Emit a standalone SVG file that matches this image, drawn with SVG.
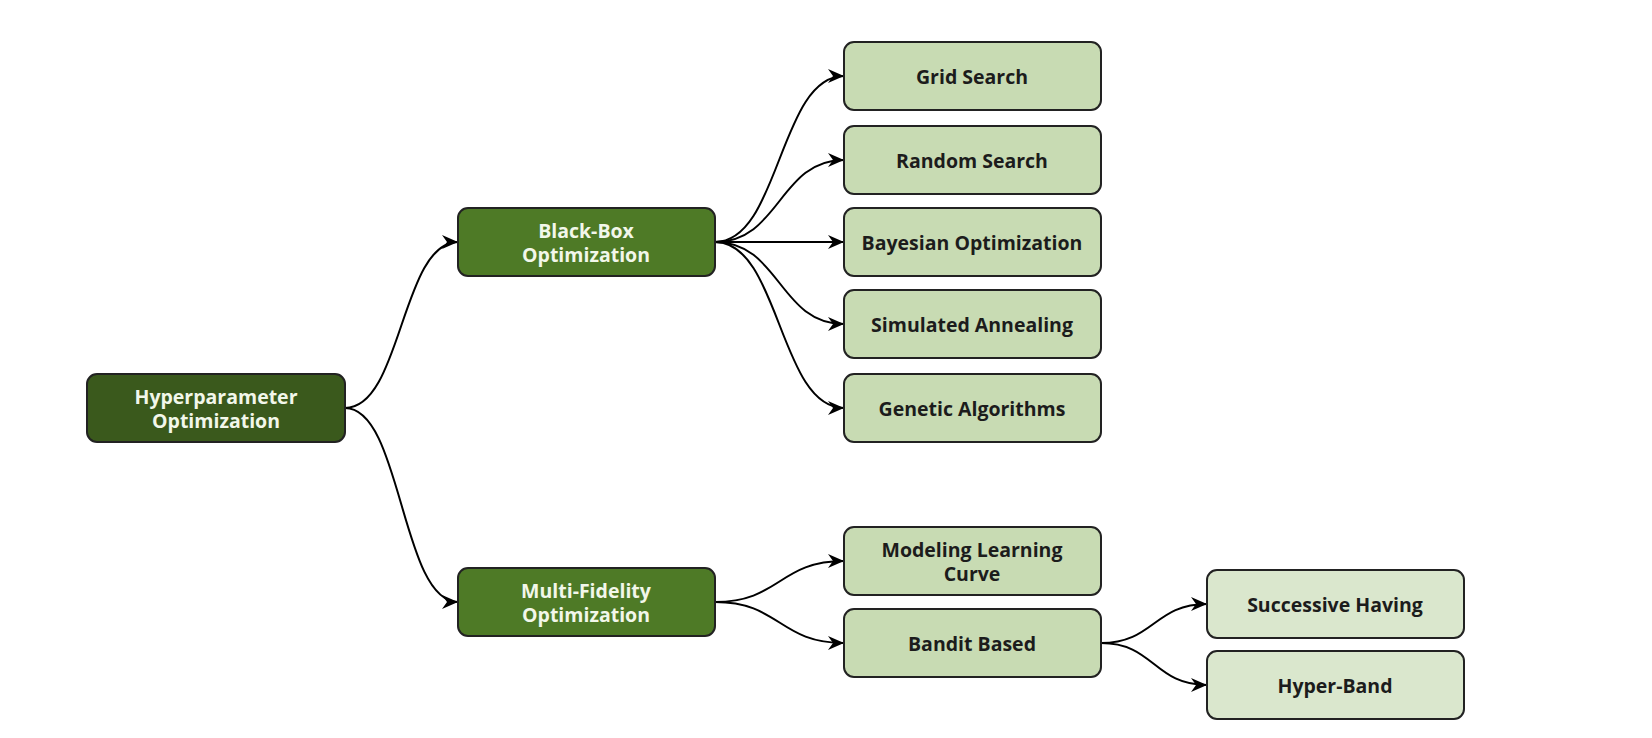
<svg xmlns="http://www.w3.org/2000/svg" width="1652" height="738" viewBox="0 0 1652 738">
<style>
.box{stroke:#222;stroke-width:2}
.root{fill:#3a591c}
.mid{fill:#4e7a26}
.leaf{fill:#c8dbb3}
.leaf2{fill:#dae7cd}
text{font-family:"Open Sans","Noto Sans","Liberation Sans",sans-serif;font-weight:700;font-size:19.5px;text-anchor:middle;dominant-baseline:central}
.lt{fill:#f2f7ea}
.dt{fill:#1c1c1c}
.con{fill:none;stroke:#000;stroke-width:2;marker-end:url(#arr)}
</style>
<defs>
<marker id="arr" markerUnits="userSpaceOnUse" markerWidth="18" markerHeight="14" refX="16" refY="7" orient="auto">
<path d="M0,0 L16,7 L0,14 L5,7 z" fill="#000"/>
</marker>
</defs>
<rect width="1652" height="738" fill="#fff"/>
<g id="connectors">
<path class="con" d="M345,408 C402,408 401,242 458,242"/>
<path class="con" d="M345,408 C402,408 401,602 458,602"/>
<path class="con" d="M715,242 C780,242 779,76 844,76"/>
<path class="con" d="M715,242 C780,242 779,160 844,160"/>
<path class="con" d="M715,242 L844,242"/>
<path class="con" d="M715,242 C780,242 779,324 844,324"/>
<path class="con" d="M715,242 C780,242 779,408 844,408"/>
<path class="con" d="M715,602 C780,602 779,561 844,561"/>
<path class="con" d="M715,602 C780,602 779,643 844,643"/>
<path class="con" d="M1101,643 C1154,643 1154,604 1207,604"/>
<path class="con" d="M1101,643 C1154,643 1154,685 1207,685"/>
</g>
<g id="hyperparameter">
<rect class="box root" x="87" y="374" width="258" height="68" rx="10"/>
<text class="lt" x="216" y="396">Hyperparameter</text>
<text class="lt" x="216" y="420">Optimization</text>
</g>
<g id="blackbox">
<rect class="box mid" x="458" y="208" width="257" height="68" rx="10"/>
<text class="lt" x="586" y="230">Black-Box</text>
<text class="lt" x="586" y="254">Optimization</text>
</g>
<g id="multifidelity">
<rect class="box mid" x="458" y="568" width="257" height="68" rx="10"/>
<text class="lt" x="586" y="590">Multi-Fidelity</text>
<text class="lt" x="586" y="614">Optimization</text>
</g>
<g id="grid">
<rect class="box leaf" x="844" y="42" width="257" height="68" rx="10"/>
<text class="dt" x="972" y="76">Grid Search</text>
</g>
<g id="random">
<rect class="box leaf" x="844" y="126" width="257" height="68" rx="10"/>
<text class="dt" x="972" y="160">Random Search</text>
</g>
<g id="bayesian">
<rect class="box leaf" x="844" y="208" width="257" height="68" rx="10"/>
<text class="dt" x="972" y="242">Bayesian Optimization</text>
</g>
<g id="simulated">
<rect class="box leaf" x="844" y="290" width="257" height="68" rx="10"/>
<text class="dt" x="972" y="324">Simulated Annealing</text>
</g>
<g id="genetic">
<rect class="box leaf" x="844" y="374" width="257" height="68" rx="10"/>
<text class="dt" x="972" y="408">Genetic Algorithms</text>
</g>
<g id="modeling">
<rect class="box leaf" x="844" y="527" width="257" height="68" rx="10"/>
<text class="dt" x="972" y="549">Modeling Learning</text>
<text class="dt" x="972" y="573">Curve</text>
</g>
<g id="bandit">
<rect class="box leaf" x="844" y="609" width="257" height="68" rx="10"/>
<text class="dt" x="972" y="643">Bandit Based</text>
</g>
<g id="successive">
<rect class="box leaf2" x="1207" y="570" width="257" height="68" rx="10"/>
<text class="dt" x="1335" y="604">Successive Having</text>
</g>
<g id="hyperband">
<rect class="box leaf2" x="1207" y="651" width="257" height="68" rx="10"/>
<text class="dt" x="1335" y="685">Hyper-Band</text>
</g>
</svg>
